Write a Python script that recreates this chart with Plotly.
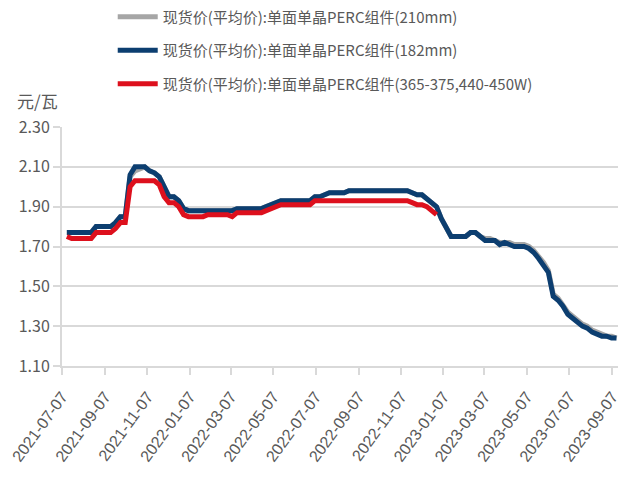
import pandas as pd
import plotly.graph_objects as go

# ---- data ----
start_date = "2021-07-14"
n_weeks = 114
dates = pd.date_range(start_date, periods=n_weeks, freq="7D")

series_names = [
    "现货价(平均价):单面单晶PERC组件(210mm)",
    "现货价(平均价):单面单晶PERC组件(182mm)",
    "现货价(平均价):单面单晶PERC组件(365-375,440-450W)",
]

blue_182 = (
    [1.77] * 6 + [1.80] * 4 + [1.82] + [1.85] * 2 + [2.06] + [2.10] * 3
    + [2.08, 2.07, 2.05, 2.00, 1.95, 1.95, 1.93, 1.89]
    + [1.88] * 10 + [1.89] * 6 + [1.90, 1.91, 1.92] + [1.93] * 7
    + [1.95] * 2 + [1.96] + [1.97] * 4 + [1.98] * 13 + [1.97] + [1.96] * 2
    + [1.94, 1.92, 1.90, 1.84, 1.79] + [1.75] * 4 + [1.77] * 2
    + [1.75, 1.73, 1.73, 1.73, 1.71, 1.72, 1.71, 1.70, 1.70, 1.70, 1.69, 1.67,
       1.64, 1.61, 1.57, 1.45, 1.43, 1.40, 1.36, 1.34, 1.32, 1.30, 1.29, 1.27,
       1.26, 1.25, 1.25, 1.24, 1.24]
)

gray_210 = (
    [1.77] * 6 + [1.80] * 4 + [1.82] + [1.85] * 2 + [2.05] + [2.08, 2.09, 2.10]
    + [2.08, 2.07, 2.05, 2.00, 1.95, 1.95, 1.93, 1.89]
    + [1.88] * 10 + [1.89] * 6 + [1.90, 1.91, 1.92] + [1.93] * 7
    + [1.95] * 2 + [1.96] + [1.97] * 4 + [1.98] * 13 + [1.97] + [1.96] * 2
    + [1.94, 1.92, 1.90, 1.84, 1.79] + [1.75] * 4 + [1.77] * 2
    + [1.75, 1.74, 1.74, 1.73, 1.72, 1.72, 1.72, 1.71, 1.71, 1.71, 1.70, 1.68,
       1.65, 1.62, 1.58, 1.46, 1.44, 1.41, 1.37, 1.35, 1.33, 1.31, 1.30, 1.28,
       1.27, 1.26, 1.25, 1.25, 1.24]
)

red_w = (
    [1.75] + [1.74] * 5 + [1.77] * 4 + [1.79] + [1.82] * 2 + [2.00] + [2.03] * 5
    + [2.01, 1.95, 1.92, 1.92, 1.90, 1.86]
    + [1.85] * 4 + [1.86] * 5 + [1.85] + [1.87] * 6 + [1.88, 1.89, 1.90]
    + [1.91] * 7 + [1.93] * 20 + [1.92] + [1.91] * 2 + [1.90, 1.88, 1.86]
)
red_w = red_w + [None] * (n_weeks - len(red_w))

tick_dates = [
    "2021-07-07", "2021-09-07", "2021-11-07", "2022-01-07", "2022-03-07",
    "2022-05-07", "2022-07-07", "2022-09-07", "2022-11-07", "2023-01-07",
    "2023-03-07", "2023-05-07", "2023-07-07", "2023-09-07",
]
y_ticks = [1.10, 1.30, 1.50, 1.70, 1.90, 2.10, 2.30]
unit_label = "元/瓦"

# ---- styles ----
colors = ["#a6a6a6", "#0c3e70", "#dd101d"]
legend_keys = ["legend", "legend2", "legend3"]
series = [gray_210, blue_182, red_w]

W, H = 622, 477
ml, mr, mt, mb = 62, 1, 127, 111
plot_w = W - ml - mr
plot_h = H - mt - mb

text_color = "#595959"
cjk = "Noto Sans CJK SC, sans-serif"

fig = go.Figure()
for name, vals, col, lk in zip(series_names, series, colors, legend_keys):
    fig.add_trace(go.Scatter(
        x=dates, y=vals, name=name, mode="lines",
        line=dict(color=col, width=5),
        connectgaps=False, legend=lk,
    ))

legend_y_px = [17, 50.5, 84]
legend_x_px = 113
leg = {}
for lk, ypx in zip(legend_keys, legend_y_px):
    leg[lk] = dict(
        x=(legend_x_px - ml) / plot_w, xanchor="left",
        y=(H - mb - ypx) / plot_h, yanchor="middle",
        bgcolor="rgba(0,0,0,0)", borderwidth=0,
        itemwidth=40,
        font=dict(family=cjk, size=15, color=text_color),
    )

fig.update_layout(
    width=W, height=H,
    margin=dict(l=ml, r=mr, t=mt, b=mb, pad=0),
    paper_bgcolor="white", plot_bgcolor="white",
    showlegend=True,
    **leg,
    xaxis=dict(
        type="date",
        range=["2021-07-07", "2023-09-15 05:00"],
        tickvals=tick_dates, ticktext=tick_dates,
        tickangle=-54,
        ticklabeloverflow="allow",
        ticklabelstandoff=6,
        tickfont=dict(family="Liberation Sans, sans-serif", size=16, color=text_color),
        showgrid=False,
        showline=True, linecolor="#d9d9d9", linewidth=2,
        ticks="outside", ticklen=7, tickwidth=2, tickcolor="#d9d9d9",
        zeroline=False,
    ),
    yaxis=dict(
        range=[1.10, 2.30],
        tickvals=y_ticks,
        tickformat=".2f",
        tickfont=dict(family=cjk, size=16, color=text_color),
        showgrid=True, gridcolor="#d9d9d9", gridwidth=2,
        showline=True, linecolor="#d9d9d9", linewidth=2,
        ticks="outside", ticklen=7, tickwidth=2, tickcolor="#d9d9d9",
        zeroline=False,
    ),
    annotations=[dict(
        text=unit_label, xref="paper", yref="paper",
        x=(15 - ml) / plot_w, xanchor="left",
        y=(H - mb - 100) / plot_h, yanchor="middle",
        showarrow=False,
        font=dict(family=cjk, size=17, color=text_color),
    )],
)

fig.write_html("out.html")
